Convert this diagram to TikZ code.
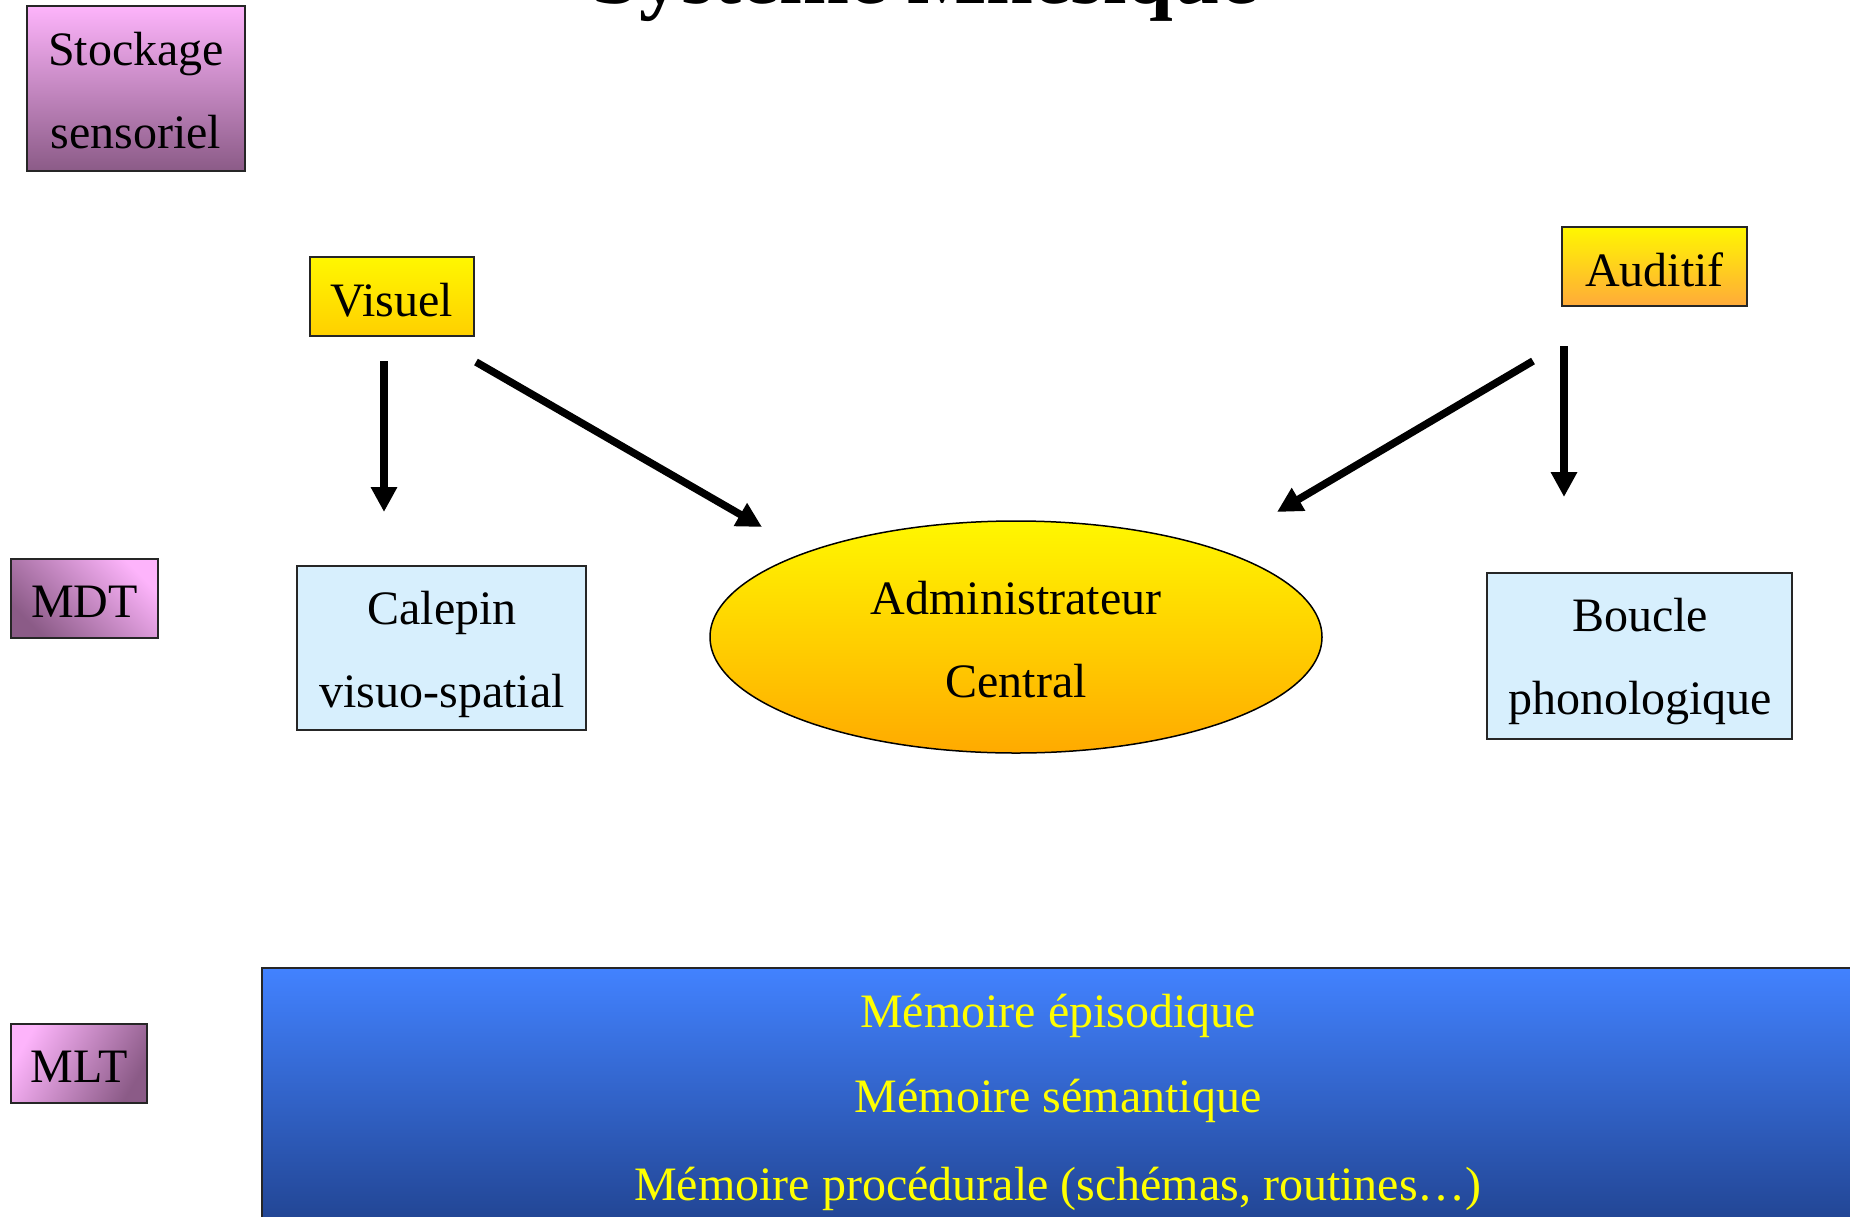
\documentclass[tikz,border=0pt]{standalone}
\usepackage{fontspec}
\setmainfont{Liberation Serif}
\usetikzlibrary{shapes.geometric,arrows.meta}

\definecolor{pinkT}{HTML}{FDB4FB}
\definecolor{plumB}{HTML}{8B5B87}
\definecolor{yelT}{HTML}{FFF700}
\definecolor{yelB}{HTML}{FFD000}
\definecolor{orgB}{HTML}{FFAA3A}
\definecolor{ellB}{HTML}{FFAA00}
\definecolor{paleblue}{HTML}{D7EFFD}
\definecolor{blueT}{HTML}{4282FF}
\definecolor{blueB}{HTML}{1C3A80}
\definecolor{memtext}{HTML}{FFFF00}

\tikzset{
  box/.style={draw=black!85, line width=1.8pt, inner sep=0pt, outer sep=0pt},
  txt/.style={font=\fontsize{48}{58}\selectfont, anchor=base, inner sep=0pt},
  memtxt/.style={txt, text=memtext},
  arr/.style={line width=7.5pt, -{Triangle[length=25pt,width=25pt]}},
  plumbox/.style={box, top color=pinkT, bottom color=plumB},
}

\begin{document}
\begin{tikzpicture}[x=1pt,y=-1pt]
  \useasboundingbox (0,0) rectangle (1850,1216);
  \clip (0,0) rectangle (1850,1216);
  \fill[white] (0,0) rectangle (1850,1216);

  % heading
  \node[font=\fontsize{84}{100}\selectfont\bfseries, anchor=base, inner sep=0pt]
    (title) at (925,3) {Système Mnésique};

  % level labels
  \node[plumbox, minimum width=218, minimum height=165] (stock) at (136,88.5) {};
  \node[txt] (stock1) at (136,65) {Stockage};
  \node[txt] (stock2) at (136,148) {sensoriel};

  \node[plumbox, shading angle=-45, minimum width=147, minimum height=79] (mdt) at (84.5,598.5) {};
  \node[txt] (mdtt) at (84.5,617) {MDT};

  \node[plumbox, shading angle=60, minimum width=136, minimum height=79] (mlt) at (79,1063.5) {};
  \node[txt] (mltt) at (79,1082) {MLT};

  % sensory inputs
  \node[box, top color=yelT, bottom color=yelB, minimum width=164, minimum height=79] (vis) at (392,296.5) {};
  \node[txt] (vist) at (392,316) {Visuel};

  \node[box, top color=yelT, bottom color=orgB, minimum width=185, minimum height=79] (aud) at (1654.5,266.5) {};
  \node[txt] (audt) at (1654.5,286) {Auditif};

  % working memory components
  \node[box, line width=1.5pt, fill=paleblue, minimum width=289, minimum height=164] (cal) at (441.5,648) {};
  \node[txt] (cal1) at (442,624) {Calepin};
  \node[txt] (cal2) at (442,707) {visuo-spatial};

  \node[ellipse, draw=black, line width=1.5pt, inner sep=0pt, top color=yelT, bottom color=ellB,
        minimum width=612, minimum height=232] (adm) at (1016,637) {};
  \node[txt] (adm1) at (1016,614) {Administrateur};
  \node[txt] (adm2) at (1016,697) {Central};

  \node[box, line width=1.5pt, fill=paleblue, minimum width=305, minimum height=166] (bou) at (1639.5,656) {};
  \node[txt] (bou1) at (1640,631) {Boucle};
  \node[txt] (bou2) at (1640,714) {phonologique};

  % long-term memory
  \node[box, line width=2.5pt, top color=blueT, bottom color=blueB,
        minimum width=1592, minimum height=300] (ltm) at (1058,1118) {};
  \node[memtxt] (ltm1) at (1058,1027) {Mémoire épisodique};
  \node[memtxt] (ltm2) at (1058,1112) {Mémoire sémantique};
  \node[memtxt] (ltm3) at (1058,1200) {Mémoire procédurale (schémas, routines…)};

  % arrow ends
  \coordinate (visA) at (384,361);
  \coordinate (visB) at (384,512);
  \coordinate (visC) at (476,362);
  \coordinate (visD) at (762,527);
  \coordinate (audA) at (1564,346);
  \coordinate (audB) at (1564,497);
  \coordinate (audC) at (1533,361);
  \coordinate (audD) at (1277,512);

  \draw[arr] (visA) -- (visB);
  \draw[arr] (visC) -- (visD);
  \draw[arr] (audA) -- (audB);
  \draw[arr] (audC) -- (audD);
\end{tikzpicture}
\end{document}
